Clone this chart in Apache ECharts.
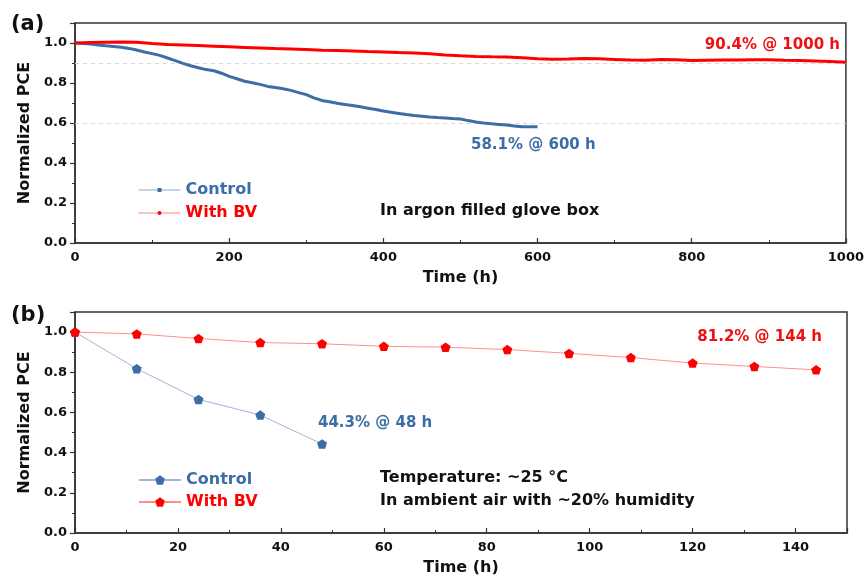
<!DOCTYPE html>
<html>
<head>
<meta charset="utf-8">
<script src="https://cdn.jsdelivr.net/npm/echarts@6/dist/echarts.min.js"></script>
<style>html,body{margin:0;padding:0;background:#fff;}#c{width:867px;height:580px;}</style>
</head>
<body>
<div id="c"></div>
<script>
// Panel (a): in argon filled glove box
const hoursControlA = [0,10,20,30,40,50,60,70,80,90,100,110,120,130,140,150,160,170,180,190,200,210,220,230,240,250,260,270,280,290,300,310,320,330,340,350,360,370,380,390,400,410,420,430,440,450,460,470,480,490,500,510,520,530,540,550,560,570,580,590,600];
const pceControlA = [1.000,0.998,0.995,0.990,0.986,0.983,0.979,0.973,0.965,0.955,0.947,0.938,0.925,0.912,0.898,0.886,0.876,0.867,0.861,0.849,0.833,0.821,0.809,0.801,0.793,0.783,0.777,0.771,0.763,0.752,0.742,0.726,0.713,0.706,0.699,0.693,0.687,0.681,0.674,0.667,0.660,0.654,0.648,0.642,0.637,0.634,0.630,0.627,0.625,0.622,0.620,0.612,0.605,0.600,0.596,0.593,0.590,0.585,0.581,0.581,0.581];
const hoursBVA = [0,20,40,60,80,100,120,140,160,180,200,220,240,260,280,300,320,340,360,380,400,420,440,460,480,500,520,540,560,580,600,620,640,660,680,700,720,740,760,780,800,820,840,860,880,900,920,940,960,980,1000];
const pceBVA = [1.000,1.002,1.004,1.005,1.004,0.998,0.993,0.990,0.987,0.984,0.981,0.978,0.975,0.972,0.970,0.967,0.964,0.962,0.960,0.957,0.955,0.952,0.950,0.946,0.940,0.936,0.933,0.931,0.930,0.926,0.921,0.919,0.920,0.922,0.921,0.918,0.915,0.914,0.918,0.916,0.913,0.914,0.915,0.915,0.916,0.916,0.914,0.913,0.910,0.907,0.904];
// Panel (b): ambient air
const hoursControlB = [0,12,24,36,48];
const pceControlB = [1.000,0.818,0.665,0.587,0.443];
const hoursBVB = [0,12,24,36,48,60,72,84,96,108,120,132,144];
const pceBVB = [1.000,0.991,0.968,0.948,0.942,0.929,0.925,0.913,0.894,0.873,0.846,0.829,0.812];
const refLinesA = [0.9, 0.6];
const xTicksA = {min:0, max:1000, interval:200};
const xTicksB = {min:0, max:150, interval:20};

const BLUE = '#3c6da6', RED = '#ff0000', RED_TXT = '#ee1111';
const FONT = 'DejaVu Sans';
const pent = 'path://M0,-1 L0.951,-0.309 L0.588,0.809 L-0.588,0.809 L-0.951,-0.309 Z';
const zip = (xs, ys) => xs.map((x, i) => [x, ys[i]]);

function yAx(gi){
  return {
    type:'value', gridIndex:gi, min:0, max:1.1, interval:0.2,
    name:'Normalized PCE', nameLocation:'middle', nameGap:35,
    nameTextStyle:{fontFamily:FONT, fontWeight:'bold', fontSize:16, color:'#111'},
    axisLine:{show:true, lineStyle:{color:'#333', width:1.5}},
    axisTick:{show:true, inside:false, length:5, lineStyle:{color:'#333', width:1.2}},
    minorTick:{show:true, splitNumber:2, length:3, lineStyle:{color:'#333', width:1}},
    splitLine:{show:false},
    axisLabel:{fontFamily:FONT, fontWeight:'bold', fontSize:13, color:'#111', margin:8, showMaxLabel:false,
      formatter:v => v.toFixed(1)}
  };
}
function xAx(gi, t){
  return {
    type:'value', gridIndex:gi, min:t.min, max:t.max, interval:t.interval,
    name:'Time (h)', nameLocation:'middle', nameGap:27,
    nameTextStyle:{fontFamily:FONT, fontWeight:'bold', fontSize:16, color:'#111'},
    axisLine:{show:true, lineStyle:{color:'#333', width:1.5}},
    axisTick:{show:true, inside:true, length:5, lineStyle:{color:'#333', width:1.2}},
    minorTick:{show:true, splitNumber:2, length:3, lineStyle:{color:'#333', width:1}},
    splitLine:{show:false},
    axisLabel:{fontFamily:FONT, fontWeight:'bold', fontSize:13, color:'#111', margin:8,
      showMaxLabel:t.max % t.interval === 0, formatter:v => String(v)}
  };
}
const txt = (s, x, y, color, size, align) => ({
  type:'text', x:x, y:y,
  style:{text:s, fill:color, font:'bold '+size+'px "'+FONT+'"', textAlign:align||'left', textVerticalAlign:'middle'}
});

const chart = echarts.init(document.getElementById('c'), null, {renderer:'canvas'});
chart.setOption({
  animation:false,
  backgroundColor:'#fff',
  grid:[
    {left:75, right:20, top:23, height:220, show:true, borderColor:'#333', borderWidth:1.5, backgroundColor:'transparent'},
    {left:75, right:20, top:312, height:221, show:true, borderColor:'#333', borderWidth:1.5, backgroundColor:'transparent'}
  ],
  xAxis:[xAx(0, xTicksA), xAx(1, xTicksB)],
  yAxis:[yAx(0), yAx(1)],
  legend:[
    {orient:'vertical', left:133, top:177, itemWidth:42, itemHeight:5, itemGap:7,
     formatter:n => n.trim(),
     data:[
       {name:'Control', textStyle:{color:BLUE}, lineStyle:{width:1, color:'#8fa9cc'}, itemStyle:{color:BLUE}},
       {name:'With BV', textStyle:{color:RED}, lineStyle:{width:1, color:'#ff8080'}, itemStyle:{color:RED}}
     ],
     textStyle:{fontFamily:FONT, fontWeight:'bold', fontSize:16}},
    {orient:'vertical', left:133, top:467, itemWidth:42, itemHeight:12, itemGap:6,
     formatter:n => n.trim(),
     data:[
       {name:'Control ', textStyle:{color:BLUE}},
       {name:'With BV ', textStyle:{color:RED}}
     ],
     textStyle:{fontFamily:FONT, fontWeight:'bold', fontSize:16}}
  ],
  series:[
    {name:'ref', type:'line', xAxisIndex:0, yAxisIndex:0, data:[], z:1, silent:true,
     markLine:{silent:true, symbol:'none', label:{show:false}, z:1,
       lineStyle:{color:'#d8d8d8', type:[4,4], width:1},
       data:refLinesA.map(v => ({yAxis:v}))}},
    {name:'Control', type:'line', xAxisIndex:0, yAxisIndex:0, data:zip(hoursControlA, pceControlA),
     symbol:'rect', symbolSize:4, showSymbol:false, lineStyle:{color:BLUE, width:3}, itemStyle:{color:BLUE}, z:3},
    {name:'With BV', type:'line', xAxisIndex:0, yAxisIndex:0, data:zip(hoursBVA, pceBVA),
     symbol:'circle', symbolSize:4, showSymbol:false, lineStyle:{color:RED, width:3}, itemStyle:{color:RED}, z:3},
    {name:'Control ', type:'line', xAxisIndex:1, yAxisIndex:1, data:zip(hoursControlB, pceControlB),
     symbol:pent, symbolSize:10, symbolKeepAspect:true, lineStyle:{color:'#9fb7d6', width:1}, itemStyle:{color:BLUE}, z:3},
    {name:'With BV ', type:'line', xAxisIndex:1, yAxisIndex:1, data:zip(hoursBVB, pceBVB),
     symbol:pent, symbolSize:10, symbolKeepAspect:true, lineStyle:{color:'#ff8f8f', width:1}, itemStyle:{color:RED}, z:3}
  ],
  graphic:[
    txt('(a)', 11, 25, '#111', 21),
    txt('(b)', 11, 316, '#111', 21),
    txt('90.4% @ 1000 h', 840, 45, RED_TXT, 15, 'right'),
    txt('58.1% @ 600 h', 471, 145, BLUE, 15),
    txt('In argon filled glove box', 380, 211, '#111', 16),
    txt('81.2% @ 144 h', 822, 337, RED_TXT, 15, 'right'),
    txt('44.3% @ 48 h', 318, 423, BLUE, 15),
    txt('Temperature: ~25 \u00B0C', 380, 478, '#111', 16),
    txt('In ambient air with ~20% humidity', 380, 501, '#111', 16)
  ]
});
</script>
</body>
</html>
